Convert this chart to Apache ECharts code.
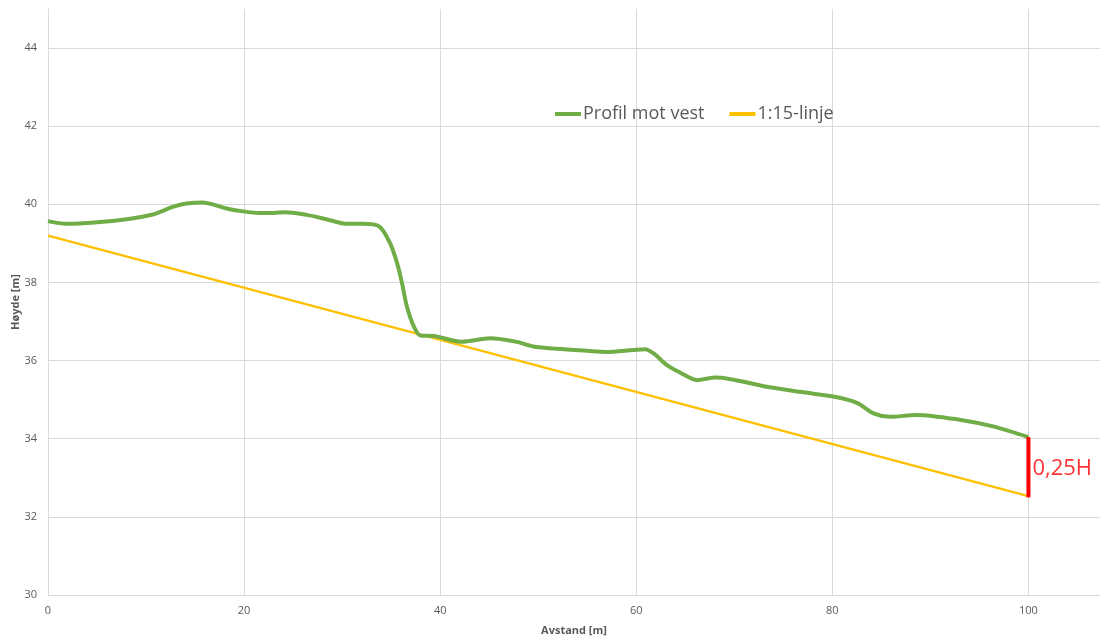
<!DOCTYPE html>
<html>
<head>
<meta charset="utf-8">
<script src="https://cdn.jsdelivr.net/npm/echarts@6/dist/echarts.min.js"></script>
<style>html,body{margin:0;padding:0;background:#fff}#c{width:1101px;height:637px}</style>
</head>
<body>
<div id="c"></div>
<script>
// Profile data (distance [m], height [m])
const profileX = [0, 1.9, 5, 8, 10.7, 12.8, 14.1, 15.8, 16.8, 18.1, 19.9, 21.6, 23, 24.2, 26.4, 28.4, 30.5, 32.1, 33.8, 34.9, 35.6, 36.1, 36.6, 37.3, 38.0, 39.3, 42.2, 45.1, 47.8, 49.5, 51.6, 55, 57, 59.7, 60.9, 61.8, 63.1, 64.5, 66.2, 68.1, 73.3, 76.7, 80.1, 82.5, 84.2, 85.9, 88.6, 93.1, 96.5, 100];
const profileY = [39.57, 39.50, 39.54, 39.62, 39.74, 39.94, 40.02, 40.05, 40.00, 39.90, 39.82, 39.78, 39.78, 39.80, 39.73, 39.62, 39.50, 39.50, 39.43, 39.0, 38.5, 37.99, 37.39, 36.88, 36.64, 36.63, 36.48, 36.57, 36.48, 36.36, 36.31, 36.25, 36.22, 36.27, 36.29, 36.18, 35.89, 35.69, 35.50, 35.57, 35.33, 35.20, 35.08, 34.92, 34.65, 34.56, 34.61, 34.48, 34.31, 34.04];
const slopeX = [0, 100];
const slopeY = [39.2, 32.53];
const markerX = [100, 100];
const markerY = [34.04, 32.5];
const markerLabel = '0,25H';
const seriesNames = ['Profil mot vest', '1:15-linje'];
const xTitle = 'Avstand [m]';
const yTitle = 'Høyde [m]';

const zip = (a, b) => a.map((v, i) => [v, b[i]]);
const font = 'Open Sans, Liberation Sans, sans-serif';
const chart = echarts.init(document.getElementById('c'), null, {renderer: 'canvas'});
chart.setOption({
  animation: false,
  textStyle: {fontFamily: font},
  grid: {left: 48, right: 1, top: 9, bottom: 42, containLabel: false, outerBoundsMode: 'none'},
  legend: {
    data: seriesNames,
    left: 550, top: 100,
    icon: 'rect', itemWidth: 26, itemHeight: 4, itemGap: 25,
    textStyle: {fontSize: 18, color: '#595959', fontFamily: font, padding: [0, 0, 0, -3]}
  },
  xAxis: {
    type: 'value', min: 0, max: 107.3, interval: 20,
    name: xTitle, nameLocation: 'middle', nameGap: 30, nameMoveOverlap: false,
    nameTextStyle: {fontSize: 11, fontWeight: 'bold', color: '#595959'},
    axisLine: {show: true, lineStyle: {color: '#D9D9D9'}},
    axisTick: {show: false},
    axisLabel: {fontSize: 11, color: '#595959', margin: 10, showMaxLabel: false},
    splitLine: {show: true, showMaxLine: false, lineStyle: {color: '#D9D9D9'}}
  },
  yAxis: {
    type: 'value', min: 30, max: 45, interval: 2,
    name: yTitle, nameLocation: 'middle', nameGap: 27, nameMoveOverlap: false,
    nameTextStyle: {fontSize: 11, fontWeight: 'bold', color: '#595959'},
    axisLine: {show: true, lineStyle: {color: '#D9D9D9'}},
    axisTick: {show: false},
    axisLabel: {fontSize: 11, color: '#595959', margin: 11, showMaxLabel: false},
    splitLine: {show: true, showMaxLine: false, lineStyle: {color: '#D9D9D9'}}
  },
  series: [
    {
      name: seriesNames[0], type: 'line', data: zip(profileX, profileY),
      smooth: 0.3, showSymbol: false, symbol: 'none',
      lineStyle: {color: '#70AD47', width: 4}, itemStyle: {color: '#70AD47'}, z: 3
    },
    {
      name: seriesNames[1], type: 'line', data: zip(slopeX, slopeY),
      showSymbol: false, symbol: 'none',
      lineStyle: {color: '#FFC000', width: 2.5}, itemStyle: {color: '#FFC000'}, z: 2
    },
    {
      name: 'marker', type: 'line', data: zip(markerX, markerY),
      showSymbol: false, symbol: 'none',
      lineStyle: {color: '#FF0000', width: 4}, itemStyle: {color: '#FF0000'}, z: 4
    },
    {
      name: 'markerLabel', type: 'scatter',
      data: [[markerX[0], (markerY[0] + markerY[1]) / 2]],
      symbolSize: 0,
      label: {show: true, position: 'right', distance: 4, offset: [0, 1], formatter: markerLabel,
        fontSize: 22, color: '#FF0000', fontFamily: font}
    }
  ]
});
</script>
</body>
</html>
